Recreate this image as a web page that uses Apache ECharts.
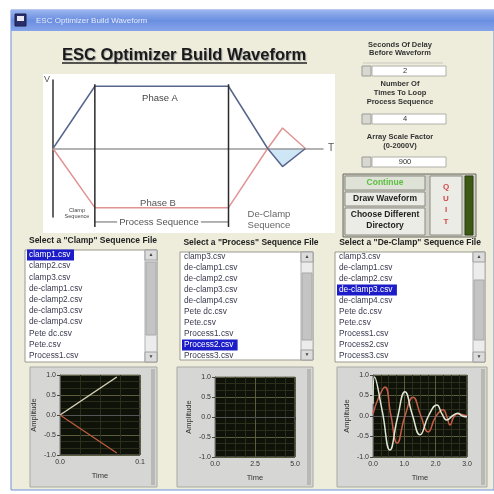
<!DOCTYPE html>
<html>
<head>
<meta charset="utf-8">
<title>ESC Optimizer Build Waveform</title>
<script src="https://cdn.jsdelivr.net/npm/echarts@6/dist/echarts.min.js"></script>
<style>
  html, body { margin: 0; padding: 0; background: #fff; }
  #chart { width: 494px; height: 494px; }
</style>
</head>
<body>
<div id="chart"></div>
<script>
// sketch of the two electrode phases (time is in arbitrary units)
var phaseA = [[0, 0], [1.55, 1], [6.5, 1], [7.95, 0], [8.5, -0.29], [9.35, 0]];
var phaseB = [[0, 0], [1.55, -0.95], [6.5, -0.95], [7.95, 0], [8.5, 0.33], [9.35, 0]];
var dipFill = [[7.95, 0], [8.5, -0.29], [9.35, 0]];
var seqMarks = [1.55, 6.5];
var processLevel = -1.18;

// settings on the right
var delaySeconds = 2;
var loopTimes = 4;
var scaleFactor = 900;

// file lists
var clampFiles = ['clamp1.csv', 'clamp2.csv', 'clamp3.csv', 'de-clamp1.csv', 'de-clamp2.csv', 'de-clamp3.csv', 'de-clamp4.csv', 'Pete dc.csv', 'Pete.csv', 'Process1.csv'];
var processFiles = ['clamp3.csv', 'de-clamp1.csv', 'de-clamp2.csv', 'de-clamp3.csv', 'de-clamp4.csv', 'Pete dc.csv', 'Pete.csv', 'Process1.csv', 'Process2.csv', 'Process3.csv'];
var declampFiles = ['clamp3.csv', 'de-clamp1.csv', 'de-clamp2.csv', 'de-clamp3.csv', 'de-clamp4.csv', 'Pete dc.csv', 'Pete.csv', 'Process1.csv', 'Process2.csv', 'Process3.csv'];

// previews of the selected files
var clampA = [[0, 0], [0.071, 0.95]];
var clampB = [[0, 0], [0.071, -0.95]];
var processA = [];
var processB = [];
var declampA = [[0.0, 0.3], [0.05, 0.95], [0.3, 0.1], [0.54, -0.83], [0.78, -0.05], [1.02, 0.59], [1.26, 0.02], [1.5, -0.46], [1.77, 0.0], [2.04, 0.27], [2.2, 0.05], [2.36, -0.1], [2.53, 0.0], [2.7, 0.07], [2.85, 0.0], [3.0, -0.02]];
var declampB = [[0.0, 0.05], [0.18, 0.45], [0.38, 0.71], [0.57, 0.02], [0.77, -0.66], [1.02, 0.0], [1.28, 0.46], [1.52, 0.02], [1.76, -0.39], [2.0, -0.02], [2.24, 0.15], [2.35, 0.0], [2.46, -0.22], [2.58, -0.02], [2.7, 0.05], [3.0, 0.0]];

var FONT = 'Liberation Sans';
var gfx = [];

function box(x, y, w, h, fill, stroke, z) {
  gfx.push({
    type: 'rect', silent: true, z: z || 0,
    shape: { x: x, y: y, width: w, height: h },
    style: { fill: fill, stroke: stroke || null, lineWidth: 1 }
  });
}

function seg(x1, y1, x2, y2, color, w, z) {
  gfx.push({
    type: 'line', silent: true, z: z || 1,
    shape: { x1: x1, y1: y1, x2: x2, y2: y2 },
    style: { stroke: color, lineWidth: w || 1 }
  });
}

function label(x, y, s, size, opt) {
  opt = opt || {};
  var st = {
    text: s, fontSize: size, fontFamily: FONT,
    fontWeight: opt.bold ? 'bold' : 'normal',
    fill: opt.color || '#222', align: opt.align || 'center', verticalAlign: 'middle'
  };
  if (opt.bg) { st.backgroundColor = opt.bg; st.padding = opt.pad || [0, 2]; }
  if (opt.shadow) { st.textShadowColor = opt.shadow; st.textShadowOffsetX = 1; st.textShadowOffsetY = 1; st.textShadowBlur = 1; }
  gfx.push({ type: 'text', silent: true, z: opt.z || 5, x: x, y: y, style: st });
}

// window
box(11, 10, 483, 480, '#eeecdb', '#7090d8', 0);
gfx.push({
  type: 'rect', silent: true, z: 1,
  shape: { x: 11, y: 10, width: 483, height: 21 },
  style: {
    fill: new echarts.graphic.LinearGradient(0, 0, 0, 1, [
      { offset: 0, color: '#9ab4ee' }, { offset: 0.5, color: '#6a8ee0' }, { offset: 1, color: '#86a4ea' }
    ])
  }
});
box(15, 14, 11, 12, '#2a2f6a', '#1a1f4a', 2);
box(17, 16, 7, 5, '#e8e8f4', null, 3);
label(36, 21, 'ESC Optimizer Build Waveform', 8, { align: 'left', color: '#e6ecfa' });

// big title
label(184, 55, 'ESC Optimizer Build Waveform', 16.5, { bold: true, color: '#1a1a1a', shadow: '#a0a0a0' });
seg(62, 63, 307, 63, '#222', 1.5, 5);

// diagram panel
box(43, 74, 292, 159, '#ffffff', null, 1);
label(160, 98, 'Phase A', 9.5, { color: '#444' });
label(158, 203, 'Phase B', 9.5, { color: '#555' });
label(77, 210, 'Clamp', 5.5, { color: '#444' });
label(77, 216, 'Sequence', 5.5, { color: '#444' });
label(159, 222, 'Process Sequence', 9.5, { color: '#555', bg: '#ffffff', pad: [0, 2], z: 20 });
label(269, 214, 'De-Clamp', 9.5, { color: '#666' });
label(269, 225, 'Sequence', 9.5, { color: '#666' });

// right side controls
function numeric(y, val) {
  box(362, y, 9, 10, '#d8d8d0', '#999', 2);
  box(372, y, 74, 10, '#ffffff', '#b0b0a8', 2);
  label(405, y + 5, String(val), 7.5, { color: '#333' });
}
label(400, 45, 'Seconds Of Delay', 7.5, { bold: true, color: '#333' });
label(400, 53, 'Before Waveform', 7.5, { bold: true, color: '#333' });
seg(363, 63, 443, 63, '#c8c8c0', 1, 2);
numeric(66, delaySeconds);
label(400, 84, 'Number Of', 7.5, { bold: true, color: '#333' });
label(400, 93, 'Times To Loop', 7.5, { bold: true, color: '#333' });
label(400, 102, 'Process Sequence', 7.5, { bold: true, color: '#333' });
numeric(114, loopTimes);
label(400, 137, 'Array Scale Factor', 7.5, { bold: true, color: '#333' });
label(400, 146, '(0-2000V)', 7.5, { bold: true, color: '#333' });
numeric(157, scaleFactor);

// buttons
box(343, 174, 133, 63, '#d0d0c8', '#6a6a60', 1);
box(345, 176, 80, 14, '#dfe2d6', '#8a8a80', 2);
label(385, 183, 'Continue', 8.5, { bold: true, color: '#5cc040' });
box(345, 192, 80, 14, '#ececE6', '#8a8a80', 2);
label(385, 199, 'Draw Waveform', 8.5, { bold: true, color: '#222' });
box(345, 208, 80, 27, '#ececE6', '#8a8a80', 2);
label(385, 215, 'Choose Different', 8.5, { bold: true, color: '#222' });
label(385, 226, 'Directory', 8.5, { bold: true, color: '#222' });
box(430, 176, 32, 59, '#ececE6', '#8a8a80', 2);
['Q', 'U', 'I', 'T'].forEach(function (c, i) {
  label(446, 187 + i * 11.5, c, 8, { bold: true, color: '#d04a4a' });
});
box(465, 176, 8, 59, '#3c5a14', '#2a3a10', 2);

// list boxes
function listBox(title, tx, x, y, w, h, items, sel, row0, step, thumb) {
  label(tx, y - 9, title, 8.5, { bold: true, color: '#222' });
  box(x, y, w, h, '#ffffff', '#9a9a90', 1);
  box(x + w - 12, y, 12, h, '#ececec', '#b0b0b0', 2);
  box(x + w - 12, y, 12, 10, '#dcdcdc', '#a0a0a0', 3);
  box(x + w - 12, y + h - 10, 12, 10, '#dcdcdc', '#a0a0a0', 3);
  box(x + w - 11, thumb[0], 10, thumb[1] - thumb[0], '#c4c4c4', '#a8a8a8', 3);
  label(x + w - 6, y + 5, '\u25B2', 5, { color: '#444', z: 4 });
  label(x + w - 6, y + h - 5, '\u25BC', 5, { color: '#444', z: 4 });
  items.forEach(function (s, i) {
    var ry = row0 + i * step;
    var hit = i === sel;
    if (hit) box(x + 2, ry - 5.5, s.length * 4.3 + 4, 11, '#1c1cc8', null, 3);
    label(x + 4, ry, s, 8.3, { align: 'left', color: hit ? '#ffffff' : '#3a3a50' });
  });
}
listBox('Select a "Clamp" Sequence File', 93, 25, 250, 132, 112, clampFiles, 0, 255, 11.2, [262, 335]);
listBox('Select a "Process" Sequence File', 251, 180, 252, 133, 108, processFiles, 8, 257, 11, [273, 340]);
listBox('Select a "De-Clamp" Sequence File', 410, 335, 252, 150, 110, declampFiles, 3, 257, 11, [280, 340]);

// graph panels
function panel(x, y, w, h) {
  box(x, y, w, h, '#d6d6d4', '#a8a8a4', 1);
  box(x + w - 6, y + 2, 4, h - 4, '#b8b8b4', null, 2);
}
panel(30, 367, 127, 120);
panel(177, 367, 136, 120);
panel(337, 367, 150, 120);

// small graph axes
function gX(idx, max, step) {
  return {
    gridIndex: idx, type: 'value', min: 0, max: max, interval: step, z: 10,
    name: 'Time', nameLocation: 'middle', nameGap: 17,
    nameTextStyle: { fontSize: 7.5, color: '#333', fontFamily: FONT },
    axisLine: { show: true, lineStyle: { color: '#555' } },
    axisTick: { show: true, length: 3, lineStyle: { color: '#444' } },
    axisLabel: { fontSize: 7, color: '#333', margin: 4, fontFamily: FONT, formatter: function (v) { return v.toFixed(1); } },
    splitLine: { show: true, lineStyle: { color: '#5c5c3e', width: 1 } },
    minorTick: { show: false, splitNumber: 4 },
    minorSplitLine: { show: true, lineStyle: { color: '#2a2e1a', width: 1 } }
  };
}
function gY(idx) {
  return {
    gridIndex: idx, type: 'value', min: -1, max: 1, interval: 0.5, z: 10,
    name: 'Amplitude', nameLocation: 'middle', nameGap: 22,
    nameTextStyle: { fontSize: 7.5, color: '#333', fontFamily: FONT },
    axisLine: { show: true, lineStyle: { color: '#555' } },
    axisTick: { show: true, length: 3, lineStyle: { color: '#444' } },
    axisLabel: { fontSize: 7, color: '#333', margin: 4, fontFamily: FONT, formatter: function (v) { return v.toFixed(1); } },
    splitLine: { show: true, lineStyle: { color: '#5c5c3e', width: 1 } },
    minorTick: { show: false, splitNumber: 3 },
    minorSplitLine: { show: true, lineStyle: { color: '#2a2e1a', width: 1 } }
  };
}

function wave(idx, data, color) {
  return {
    type: 'line', xAxisIndex: idx, yAxisIndex: idx, data: data, smooth: 0.5,
    symbol: 'none', lineStyle: { color: color, width: 1.5 }, z: 12
  };
}

var series = [
  {
    type: 'line', xAxisIndex: 0, yAxisIndex: 0, data: dipFill, symbol: 'none',
    lineStyle: { width: 0 }, areaStyle: { color: '#cfe6f7', opacity: 1 }, z: 2
  },
  {
    type: 'line', xAxisIndex: 0, yAxisIndex: 0, data: phaseB, symbol: 'none',
    lineStyle: { color: '#e09494', width: 1.5 }, z: 12
  },
  {
    type: 'line', xAxisIndex: 0, yAxisIndex: 0, data: phaseA, symbol: 'none',
    lineStyle: { color: '#58668c', width: 1.5 }, z: 13
  },
  {
    type: 'line', xAxisIndex: 0, yAxisIndex: 0, clip: false, symbol: 'none',
    data: [[seqMarks[0], processLevel], [seqMarks[1], processLevel]],
    lineStyle: { color: '#666', width: 1 }, z: 12
  }
];
seqMarks.forEach(function (t) {
  series.push({
    type: 'line', xAxisIndex: 0, yAxisIndex: 0, clip: false, symbol: 'none',
    data: [[t, 1.03], [t, -1.26]], lineStyle: { color: '#2a2a2a', width: 1.5 }, z: 14
  });
});
series.push(wave(1, clampA, '#d8d4b8'));
series.push(wave(1, clampB, '#b85a3c'));
series.push(wave(2, processA, '#d8d4b8'));
series.push(wave(2, processB, '#b85a3c'));
series.push(wave(3, declampB, '#c65e48'));
series.push(wave(3, declampA, '#dfe8d4'));

var plotBg = '#0e1208';
var option = {
  backgroundColor: '#ffffff',
  animation: false,
  graphic: { elements: gfx },
  grid: [
    { left: 53, top: 80, width: 270, height: 137, show: false, z: 8 },
    { left: 60, top: 375, width: 80, height: 80, show: true, backgroundColor: plotBg, borderColor: '#777', z: 8 },
    { left: 215, top: 377, width: 80, height: 80, show: true, backgroundColor: plotBg, borderColor: '#777', z: 8 },
    { left: 373, top: 375, width: 94, height: 82, show: true, backgroundColor: plotBg, borderColor: '#777', z: 8 }
  ],
  xAxis: [
    {
      gridIndex: 0, type: 'value', min: 0, max: 10, z: 10,
      name: 'T', nameGap: 5, nameTextStyle: { color: '#555', fontSize: 10, fontFamily: FONT },
      axisLine: { show: true, onZero: true, lineStyle: { color: '#9a9a9a', width: 1.5 } },
      axisTick: { show: false }, axisLabel: { show: false }, splitLine: { show: false }
    },
    gX(1, 0.1, 0.1),
    gX(2, 5, 2.5),
    gX(3, 3, 1)
  ],
  yAxis: [
    {
      gridIndex: 0, type: 'value', min: -1.1, max: 1.1, z: 10,
      name: 'V', nameGap: 0,
      nameTextStyle: { color: '#555', fontSize: 9, fontFamily: FONT, align: 'right', verticalAlign: 'middle', padding: [0, 3, 0, 0] },
      axisLine: { show: true, onZero: false, lineStyle: { color: '#333', width: 1.5 } },
      axisTick: { show: false }, axisLabel: { show: false }, splitLine: { show: false }
    },
    gY(1),
    gY(2),
    gY(3)
  ],
  series: series
};

var chart = echarts.init(document.getElementById('chart'));
chart.setOption(option);
</script>
</body>
</html>
